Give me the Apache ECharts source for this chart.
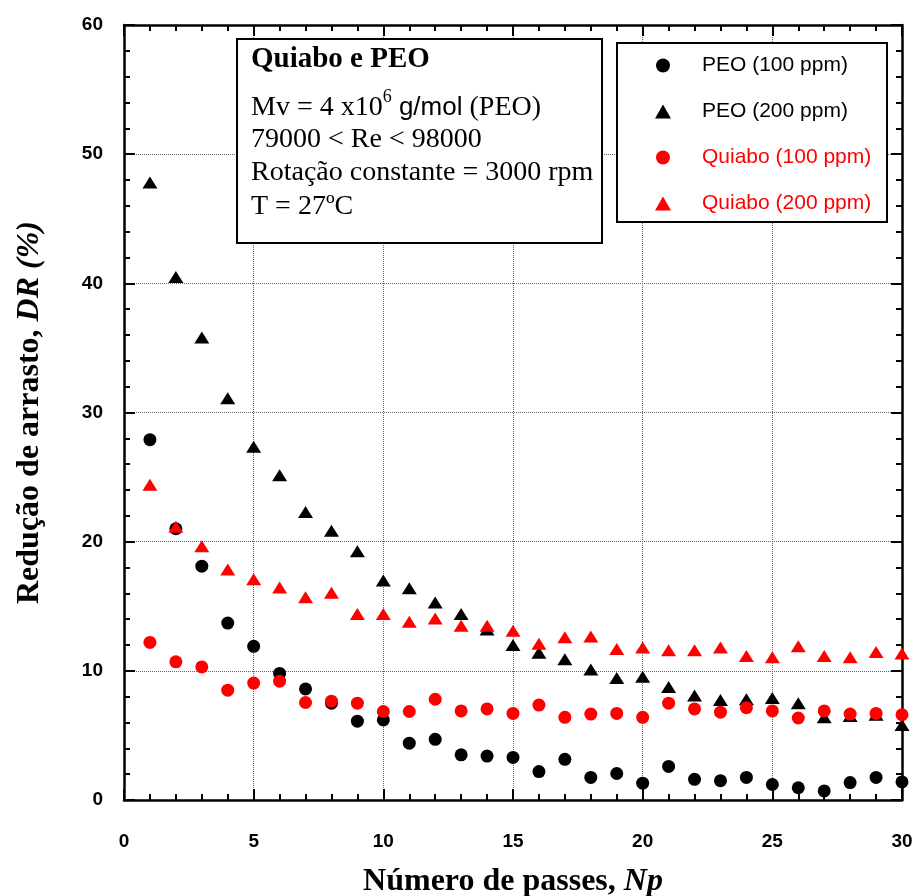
<!DOCTYPE html>
<html>
<head>
<meta charset="utf-8">
<script src="https://cdn.jsdelivr.net/npm/echarts@6/dist/echarts.min.js"></script>
<style>html,body{margin:0;padding:0;background:#fff}#c{width:917px;height:896px}</style>
</head>
<body>
<div id="c"></div>
<script>
// ---- data ----
var passes = [1,2,3,4,5,6,7,8,9,10,11,12,13,14,15,16,17,18,19,20,21,22,23,24,25,26,27,28,29,30];
var peo100 = [27.9,21.0,18.1,13.7,11.9,9.8,8.6,7.5,6.1,6.2,4.4,4.7,3.5,3.4,3.3,2.2,3.15,1.75,2.05,1.3,2.6,1.6,1.5,1.75,1.2,0.95,0.7,1.35,1.75,1.4];
var peo200 = [47.8,40.5,35.8,31.1,27.35,25.15,22.3,20.85,19.25,17.0,16.4,15.3,14.4,13.2,12.0,11.4,10.9,10.1,9.45,9.55,8.75,8.1,7.75,7.8,7.9,7.5,6.4,6.5,6.6,5.8];
var quiabo100 = [12.2,10.7,10.3,8.5,9.05,9.2,7.55,7.65,7.5,6.85,6.85,7.8,6.9,7.05,6.7,7.35,6.4,6.65,6.7,6.4,7.5,7.05,6.8,7.15,6.9,6.35,6.9,6.65,6.7,6.6];
var quiabo200 = [24.4,21.15,19.65,17.85,17.1,16.45,15.7,16.05,14.4,14.4,13.8,14.05,13.5,13.5,13.1,12.1,12.6,12.65,11.7,11.8,11.6,11.6,11.8,11.15,11.05,11.9,11.15,11.05,11.45,11.35];
var seriesNames = ['PEO (100 ppm)','PEO (200 ppm)','Quiabo (100 ppm)','Quiabo (200 ppm)'];
var xTicks = [0,5,10,15,20,25,30];
var yTicks = [0,10,20,30,40,50,60];
var infoTitle = 'Quiabo e PEO';
var infoLines = ['79000 < Re < 98000','Rotação constante = 3000 rpm','T = 27ºC'];

function pairs(ys){ return passes.map(function(x,i){ return [x, ys[i]]; }); }

var chart = echarts.init(document.getElementById('c'), null, {renderer:'canvas'});
var BLACK = '#000', RED = '#ff0000';
var tickFont = {fontFamily:'Arial, "Liberation Sans", sans-serif', fontWeight:'bold', fontSize:19, color:'#000'};
var serif = '"Times New Roman", "Liberation Serif", serif';
var sans = 'Arial, "Liberation Sans", sans-serif';

function frameAxis(pos, isX, showLabel, extra){
  var ticks = isX ? xTicks : yTicks;
  var a = {
    type:'value', position:pos,
    min: ticks[0], max: ticks[ticks.length-1], interval: ticks[1]-ticks[0],
    axisLine:{show:true, onZero:false, lineStyle:{color:BLACK, width:2.5}},
    axisTick:{show:true, inside:true, length:11, lineStyle:{color:BLACK, width:2}},
    minorTick:{show:true, splitNumber: 5, length:6, lineStyle:{color:BLACK, width:2}},
    axisLabel:{show:showLabel},
    splitLine:{show:false}
  };
  for (var k in extra) a[k] = extra[k];
  return a;
}

var option = {
  animation:false,
  backgroundColor:'#fff',
  grid:{left:124, right:15, top:25, bottom:96, containLabel:false, outerBoundsMode:'none'},
  xAxis:[
    frameAxis('bottom', true, true, {
      axisLabel:Object.assign({show:true, margin:32}, tickFont),
      splitLine:{show:true, lineStyle:{type:'dotted', color:'#666', width:1}},
      name:'{a|Número de passes, }{b|Np}', nameLocation:'middle', nameGap:66,
      nameTextStyle:{rich:{
        a:{fontFamily:serif, fontWeight:'bold', fontSize:32, color:'#000'},
        b:{fontFamily:serif, fontWeight:'bold', fontStyle:'italic', fontSize:32, color:'#000'}
      }}
    }),
    frameAxis('top', true, false, {})
  ],
  yAxis:[
    frameAxis('left', false, true, {
      axisLabel:Object.assign({show:true, margin:21}, tickFont),
      splitLine:{show:true, lineStyle:{type:'dotted', color:'#666', width:1}},
      name:'{a|Redução de arrasto, }{b|DR (%)}', nameLocation:'middle', nameGap:78, nameRotate:90,
      nameTextStyle:{rich:{
        a:{fontFamily:serif, fontWeight:'bold', fontSize:32, color:'#000'},
        b:{fontFamily:serif, fontWeight:'bold', fontStyle:'italic', fontSize:32, color:'#000'}
      }}
    }),
    frameAxis('right', false, false, {})
  ],
  legend:{
    orient:'vertical', left:655, top:55, padding:0, z:10,
    itemWidth:16, itemHeight:14, itemGap:25, symbolKeepAspect:true,
    textStyle:{fontFamily:sans, fontSize:21, lineHeight:20, color:'#000', padding:[0,0,0,26]},
    data:[
      {name:seriesNames[0], icon:'circle', textStyle:{color:BLACK}},
      {name:seriesNames[1], icon:'triangle', textStyle:{color:BLACK}},
      {name:seriesNames[2], icon:'circle', textStyle:{color:RED}},
      {name:seriesNames[3], icon:'triangle', textStyle:{color:RED}}
    ]
  },
  graphic:[
    {type:'rect', z:8, shape:{x:237, y:39, width:365, height:204}, style:{fill:'#fff', stroke:'#000', lineWidth:2}},
    {type:'text', z:9, x:251, y:60, style:{text:infoTitle, font:'bold 29px ' + serif, fill:'#000', verticalAlign:'middle', align:'left'}},
    {type:'text', z:9, x:251, y:108, style:{
      text:'{a|Mv = 4 x10}{s|6}{b| g/mol}{a| (PEO)}', verticalAlign:'middle', align:'left',
      rich:{
        a:{fontFamily:serif, fontSize:28, lineHeight:40, fill:'#000', color:'#000'},
        s:{fontFamily:serif, fontSize:18, lineHeight:18, fill:'#000', color:'#000', verticalAlign:'top'},
        b:{fontFamily:sans, fontSize:26, lineHeight:40, fill:'#000', color:'#000'}
      }}},
    {type:'text', z:9, x:251, y:140, style:{text:infoLines[0], font:'28px ' + serif, fill:'#000', verticalAlign:'middle', align:'left'}},
    {type:'text', z:9, x:251, y:173, style:{text:infoLines[1], font:'28px ' + serif, fill:'#000', verticalAlign:'middle', align:'left'}},
    {type:'text', z:9, x:251, y:207, style:{text:infoLines[2], font:'28px ' + serif, fill:'#000', verticalAlign:'middle', align:'left'}},
    {type:'rect', z:8, shape:{x:617, y:43, width:270, height:179}, style:{fill:'#fff', stroke:'#000', lineWidth:2}}
  ],
  series:[
    {name:seriesNames[0], type:'scatter', symbol:'circle', symbolSize:13, itemStyle:{color:BLACK, opacity:1}, data:pairs(peo100), z:3},
    {name:seriesNames[1], type:'scatter', symbol:'triangle', symbolSize:[15,12], itemStyle:{color:BLACK, opacity:1}, data:pairs(peo200), z:4},
    {name:seriesNames[2], type:'scatter', symbol:'circle', symbolSize:13, itemStyle:{color:RED, opacity:1}, data:pairs(quiabo100), z:5},
    {name:seriesNames[3], type:'scatter', symbol:'triangle', symbolSize:[15,12], itemStyle:{color:RED, opacity:1}, data:pairs(quiabo200), z:6}
  ]
};
chart.setOption(option);
</script>
</body>
</html>
